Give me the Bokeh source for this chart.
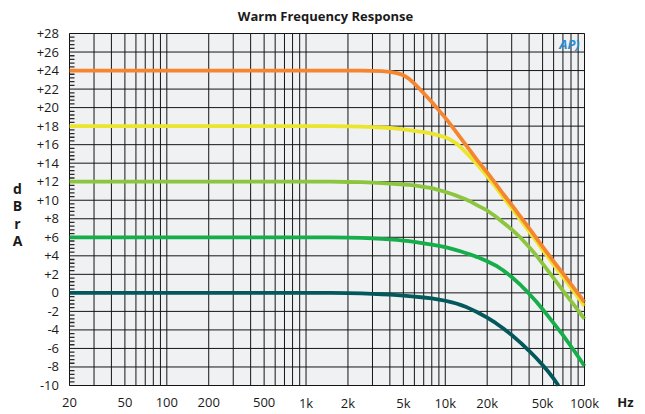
import math
from bokeh.plotting import figure
from bokeh.models import Range1d, Label, LabelSet, ColumnDataSource, BoxAnnotation
from bokeh.core.properties import value
from bokeh.embed import file_html
from bokeh.resources import INLINE

title_text = "Warm Frequency Response"
x_unit = "Hz"
y_label_letters = ["d", "B", "r", "A"]
logo_text = "AP)"

# frequency points (Hz)
freq = [20, 100, 1000, 1500, 2000, 2500, 3000, 3500, 4000, 4500, 5000, 5500, 6000,
        7000, 8000, 9000, 10000, 11000, 12000, 13000, 14000, 15000, 17000, 20000,
        23000, 26000, 30000, 35000, 40000, 45000, 50000, 60000, 70000, 85000, 100000]
# response curves (dBrA)
db_24 = [24, 24, 24, 24, 24, 24, 23.97, 23.93, 23.85, 23.72, 23.5, 23.1, 22.6,
         21.55, 20.6, 19.7, 18.9, 18.1, 17.35, 16.65, 16.0, 15.4, 14.3, 13.0,
         11.8, 10.7, 9.5, 8.15, 7.0, 5.95, 5.0, 3.4, 2.1, 0.4, -1.0]
db_18 = [18, 18, 18, 18, 17.97, 17.95, 17.9, 17.85, 17.8, 17.72, 17.65, 17.58, 17.5,
         17.35, 17.2, 17.0, 16.8, 16.5, 16.15, 15.68, 15.2, 14.73, 13.83, 12.62,
         11.45, 10.35, 9.15, 7.8, 6.65, 5.6, 4.65, 3.05, 1.72, 0.02, -1.4]
db_12 = [12, 12, 12, 12, 11.97, 11.95, 11.9, 11.85, 11.8, 11.75, 11.7, 11.65, 11.6,
         11.45, 11.3, 11.1, 10.9, 10.7, 10.5, 10.3, 10.1, 9.9, 9.45, 8.9,
         8.25, 7.6, 6.85, 5.9, 4.95, 4.05, 3.15, 1.6, 0.25, -1.4, -2.8]
db_6 = [6, 6, 6, 6, 5.97, 5.93, 5.88, 5.83, 5.77, 5.71, 5.65, 5.58, 5.5,
        5.35, 5.2, 5.07, 4.93, 4.78, 4.62, 4.47, 4.31, 4.16, 3.86, 3.42,
        2.96, 2.44, 1.71, 0.80, -0.09, -0.94, -1.76, -3.26, -4.57, -6.33, -7.9]
freq_0 = [20, 100, 1000, 1500, 2000, 2500, 3000, 3500, 4000, 4500, 5000, 5500, 6000,
          7000, 8000, 9000, 10000, 11000, 12000, 13000, 14000, 15000, 17000, 20000,
          23000, 26000, 30000, 35000, 40000, 45000, 50000, 55000, 60000, 65000]
db_0 = [0, 0, 0, 0, -0.03, -0.06, -0.1, -0.15, -0.2, -0.25, -0.3, -0.35, -0.4,
        -0.5, -0.6, -0.72, -0.85, -1.0, -1.15, -1.32, -1.5, -1.7, -2.09, -2.68,
        -3.25, -3.82, -4.55, -5.42, -6.25, -7.03, -7.78, -8.52, -9.25, -10.0]

series = [
    (freq_0, db_0, "#03585c"),
    (freq, db_6, "#16ae4b"),
    (freq, db_12, "#8cc63f"),
    (freq, db_18, "#ece52e"),
    (freq, db_24, "#f6852f"),
]

x_ticks = [20, 50, 100, 200, 500, 1000, 2000, 5000, 10000, 20000, 50000, 100000]
x_tick_labels = ["20", "50", "100", "200", "500", "1k", "2k", "5k", "10k", "20k", "50k", "100k"]
y_ticks = list(range(-10, 29, 2))
y_tick_labels = [("+%d" % v) if v > 0 else str(v) for v in y_ticks]

X_MIN, X_MAX = x_ticks[0], x_ticks[-1]
Y_MIN, Y_MAX = y_ticks[0], y_ticks[-1]

grid_freqs = [m * 10 ** e for e in range(1, 6) for m in range(1, 10)
              if X_MIN <= m * 10 ** e <= X_MAX]
y_minor = [v / 10 for v in range(-100, 281, 4) if v % 20 != 0]

# ---- layout (pixels on the page) ----
W, H = 645, 414
FL, FR, FT, FB = 69, 584, 33, 385
lx0, lx1 = math.log10(X_MIN), math.log10(X_MAX)
dec_px = (lx1 - lx0) / (FR - FL)
u_px = (Y_MAX - Y_MIN) / (FB - FT)


def px_x(px):
    return 10 ** (lx0 + (px - FL) * dec_px)


def px_y(py):
    return Y_MAX - (py - FT) * u_px


FONT = "Open Sans"
TXT = "#1a1a1a"
GRID = "#151515"

p = figure(width=W, height=H, x_axis_type="log",
           x_range=Range1d(px_x(0), px_x(W)), y_range=Range1d(px_y(H), px_y(0)),
           x_axis_location=None, y_axis_location=None,
           output_backend="svg", toolbar_location=None, title=None,
           min_border=0)
p.grid.visible = False
p.outline_line_color = None
p.background_fill_color = "white"
p.border_fill_color = "white"

# plot area background
p.add_layout(BoxAnnotation(left=X_MIN, right=X_MAX, bottom=Y_MIN, top=Y_MAX,
                           fill_color="#eff1f3", fill_alpha=1, line_color=None,
                           level="underlay"))

# grid
gsrc = ColumnDataSource(dict(x=grid_freqs))
p.segment(x0="x", y0=Y_MIN, x1="x", y1=Y_MAX, source=gsrc,
          line_color=GRID, line_width=1)
hsrc = ColumnDataSource(dict(y=y_ticks))
p.segment(x0=X_MIN, y0="y", x1=X_MAX, y1="y", source=hsrc,
          line_color=GRID, line_width=1)

# minor ticks on the left edge
p.ray(x=X_MIN, y=y_minor, length=5, length_units="screen", angle=0,
      line_color="#2a2a2a", line_width=1.3)

# curves
for fx, fy, col in series:
    p.line(fx, fy, line_color=col, line_width=3.8, line_join="round", line_cap="butt")

# frame outline
p.add_layout(BoxAnnotation(left=X_MIN, right=X_MAX, bottom=Y_MIN, top=Y_MAX,
                           fill_alpha=0, line_color=GRID, line_width=1,
                           level="overlay"))

# tick labels
ysrc = ColumnDataSource(dict(y=y_ticks, text=y_tick_labels))
p.add_layout(LabelSet(x=px_x(58.5), y="y", text="text", source=ysrc,
                      text_align="right", text_baseline="middle",
                      text_font=value(FONT), text_font_size="13px", text_color=TXT))
xsrc = ColumnDataSource(dict(x=x_ticks, text=x_tick_labels))
p.add_layout(LabelSet(x="x", y=px_y(402), text="text", source=xsrc,
                      text_align="center", text_baseline="middle",
                      text_font=value(FONT), text_font_size="13px", text_color=TXT))

# title
p.add_layout(Label(x=px_x(325), y=px_y(15), text=title_text,
                   text_align="center", text_baseline="middle",
                   text_font=FONT, text_font_size="13px", text_font_style="bold",
                   text_color=TXT))
# x unit
p.add_layout(Label(x=px_x(625), y=px_y(401.5), text=x_unit,
                   text_align="center", text_baseline="middle",
                   text_font=FONT, text_font_size="13px", text_font_style="bold",
                   text_color=TXT))
# stacked y unit
for i, ch in enumerate(y_label_letters):
    p.add_layout(Label(x=px_x(17), y=px_y(188 + i * 17.3), text=ch,
                       text_align="center", text_baseline="alphabetic",
                       text_font=FONT, text_font_size="14px", text_font_style="bold",
                       text_color=TXT))
# logo
p.add_layout(Label(x=px_x(569), y=px_y(43), text=logo_text,
                   text_align="center", text_baseline="middle",
                   text_font=FONT, text_font_size="13px", text_font_style="bold italic",
                   text_color="#2a8bd2"))

open("out.html", "w").write(file_html(p, INLINE))
